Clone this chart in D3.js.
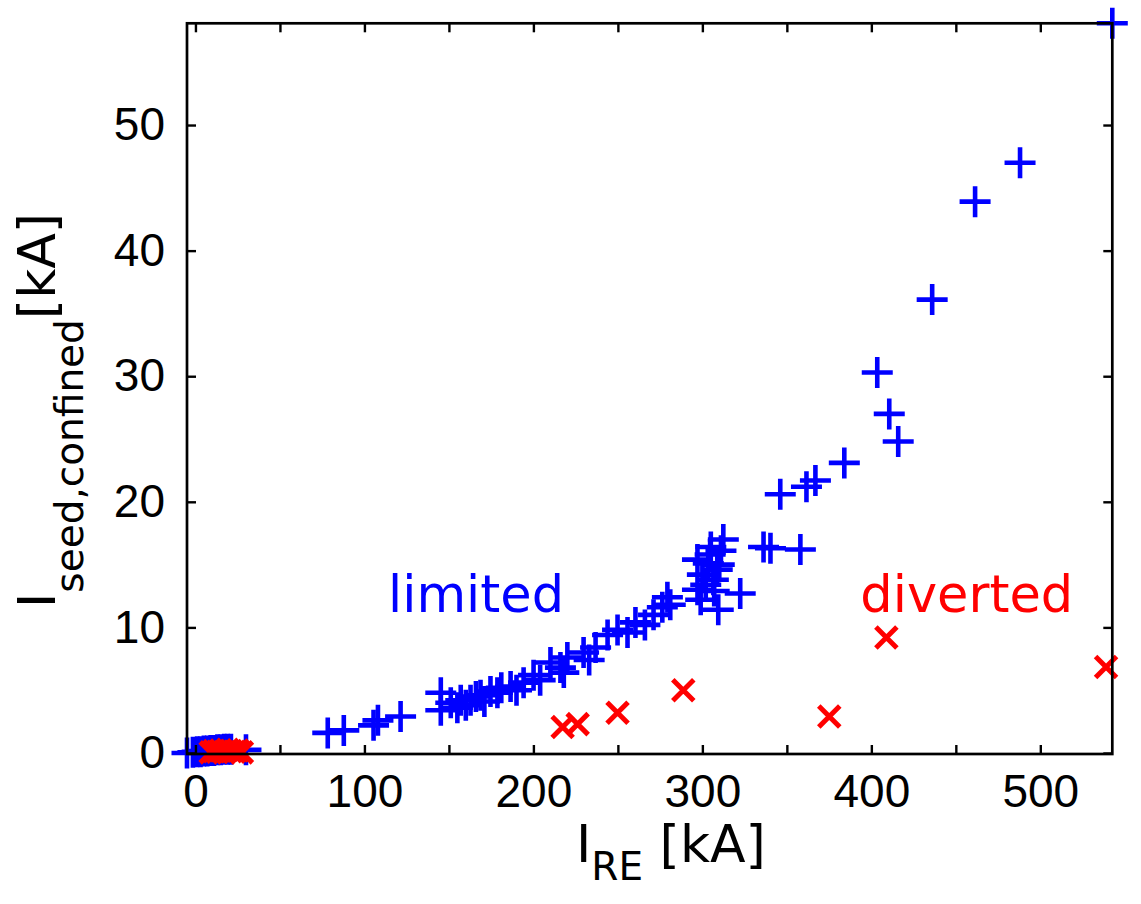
<!DOCTYPE html>
<html>
<head>
<meta charset="utf-8">
<script src="https://cdn.jsdelivr.net/npm/d3@7"></script>
<style>
  html, body { margin: 0; padding: 0; background: #fff; }
  svg { display: block; }
</style>
</head>
<body>
<svg id="chart" width="1141" height="904"></svg>
<script>
// Runaway electron seed current vs. runaway current, kA
const limitedX = [
  -5.0, -1.5, 1.0, 3.0, 5.0, 7.0, 9.0, 11.0, 13.0, 15.0, 17.0, 19.0, 21.0, 29.9,
  78.3, 87.8, 105.4, 108.0, 121.4,
  145.2, 145.2, 151.1, 155.0, 157.0, 160.0, 162.8, 166.0, 168.7, 171.0, 174.6, 178.7, 181.0,
  186.5, 190.0, 194.2, 200.1, 204.0, 210.1, 216.0, 218.0, 220.1, 229.7, 233.0, 236.8,
  243.9, 249.8, 255.7, 260.4, 266.0, 271.1, 276.3, 279.3, 281.0,
  297.1, 297.1, 300.0, 302.0, 304.6, 305.0, 306.5, 308.8, 309.4, 310.0, 312.4, 322.4,
  299.0, 303.5, 307.0, 311.0,
  336.2, 340.3, 346.1, 358.0, 361.6, 366.9, 384.0,
  403.5, 410.6, 415.9, 436.0, 461.4, 488.0, 542.6
];
const limitedY = [
  0.0, 0.05, 0.1, 0.1, 0.15, 0.15, 0.2, 0.2, 0.25, 0.25, 0.3, 0.3, 0.3, 0.25,
  1.6, 1.8, 2.2, 2.6, 2.9,
  4.8, 3.4, 4.0, 3.6, 4.2, 3.8, 4.2, 4.5, 4.6, 4.1, 4.9, 4.8, 5.2,
  5.3, 5.0, 5.6, 6.2, 5.8, 7.2, 6.8, 6.4, 7.6, 8.0, 7.4, 8.4,
  9.4, 9.8, 9.6, 10.4, 10.2, 11.0, 11.6, 12.4, 11.8,
  13.0, 15.4, 14.2, 13.4, 15.8, 16.4, 13.8, 14.6, 11.4, 15.0, 17.0, 12.7,
  12.2, 15.1, 12.9, 16.1,
  16.4, 16.3, 20.6, 16.2, 21.2, 21.7, 23.1,
  30.3, 27.0, 24.8, 36.1, 43.9, 47.0, 58.1
];

const divertedX = [9.0, 11.0, 13.0, 15.0, 17.0, 19.0, 21.0, 23.0, 25.0, 27.5,
  217.3, 226.2, 249.8, 288.7, 375.1, 408.9, 538.9];
const divertedY = [0.05, 0.15, 0.1, 0.2, 0.05, 0.25, 0.15, 0.1, 0.2, 0.05,
  2.07, 2.3, 3.2, 5.0, 2.9, 9.2, 6.85];

const xTickValues = [0, 50, 100, 150, 200, 250, 300, 350, 400, 450, 500];
const xTickLabels = ["0", "", "100", "", "200", "", "300", "", "400", "", "500"];
const yTickValues = [0, 10, 20, 30, 40, 50];
const yTickLabels = ["0", "10", "20", "30", "40", "50"];

const annotations = [
  { text: "limited", x: 114, y: 11.2, color: "#0000ff" },
  { text: "diverted", x: 393.5, y: 11.2, color: "#ff0000" }
];

// plot box
const boxLeft = 187, boxRight = 1112.3, boxTop = 23.3, boxBottom = 754;

const allX = limitedX.concat(divertedX);
const allY = limitedY.concat(divertedY);

// tight limits, as in the source figure
const x = d3.scaleLinear().domain(d3.extent(allX)).range([boxLeft, boxRight]);
const y = d3.scaleLinear().domain([d3.min(allY) - 0.08, d3.max(allY)]).range([boxBottom, boxTop]);

const svg = d3.select("#chart");

const tickFont = "'Liberation Sans', Arial, Helvetica, sans-serif";
const labelFont = "'DejaVu Sans', sans-serif";

// markers
const plusPath = "M-15.5,0H15.5M0,-15.5V15.5";
const crossPath = "M-10.5,-10.5L10.5,10.5M-10.5,10.5L10.5,-10.5";

svg.append("g")
  .selectAll("path")
  .data(d3.zip(limitedX, limitedY))
  .join("path")
  .attr("transform", d => `translate(${x(d[0])},${y(d[1])})`)
  .attr("d", plusPath)
  .attr("fill", "none")
  .attr("stroke", "#0000ff")
  .attr("stroke-width", 4.6);

svg.append("g")
  .selectAll("path")
  .data(d3.zip(divertedX, divertedY))
  .join("path")
  .attr("transform", d => `translate(${x(d[0])},${y(d[1])})`)
  .attr("d", crossPath)
  .attr("fill", "none")
  .attr("stroke", "#ff0000")
  .attr("stroke-width", 5);

// axes: ticks pointing inward on all four sides
function styleAxis(g) {
  g.select(".domain").remove();
  g.selectAll(".tick line").attr("stroke", "#000").attr("stroke-width", 2.4);
  g.selectAll(".tick text")
    .attr("fill", "#000")
    .style("font-family", tickFont)
    .style("font-size", "46px");
}

svg.append("g")
  .attr("transform", `translate(0,${boxBottom})`)
  .call(d3.axisBottom(x).tickValues(xTickValues).tickSizeInner(-9).tickSizeOuter(0)
    .tickPadding(20).tickFormat((d, i) => xTickLabels[i]))
  .call(styleAxis);

svg.append("g")
  .attr("transform", `translate(0,${boxTop})`)
  .call(d3.axisTop(x).tickValues(xTickValues).tickSizeInner(-9).tickSizeOuter(0).tickFormat(""))
  .call(styleAxis);

svg.append("g")
  .attr("transform", `translate(${boxLeft},0)`)
  .call(d3.axisLeft(y).tickValues(yTickValues).tickSizeInner(-9).tickSizeOuter(0)
    .tickPadding(22).tickFormat((d, i) => yTickLabels[i]))
  .call(styleAxis);

svg.append("g")
  .attr("transform", `translate(${boxRight},0)`)
  .call(d3.axisRight(y).tickValues(yTickValues).tickSizeInner(-9).tickSizeOuter(0).tickFormat(""))
  .call(styleAxis);

// frame
svg.append("rect")
  .attr("x", boxLeft).attr("y", boxTop)
  .attr("width", boxRight - boxLeft).attr("height", boxBottom - boxTop)
  .attr("fill", "none")
  .attr("stroke", "#000")
  .attr("stroke-width", 2.7);

// in-plot annotations
svg.append("g")
  .selectAll("text")
  .data(annotations)
  .join("text")
  .attr("x", d => x(d.x))
  .attr("y", d => y(d.y))
  .attr("fill", d => d.color)
  .style("font-family", labelFont)
  .style("font-size", "51px")
  .text(d => d.text);

// x label: I_RE [kA]
const xl = svg.append("text")
  .attr("x", 576).attr("y", 862)
  .style("font-family", labelFont)
  .style("font-size", "52px")
  .attr("fill", "#000");
xl.append("tspan").text("I");
xl.append("tspan").attr("dy", 18).style("font-size", "39px").text("RE");
xl.append("tspan").attr("dy", -18).text(" [kA]");

// y label: I_seed,confined [kA]
const yl = svg.append("text")
  .attr("transform", "translate(55,608) rotate(-90)")
  .style("font-family", labelFont)
  .style("font-size", "52px")
  .attr("fill", "#000");
yl.append("tspan").text("I");
yl.append("tspan").attr("dy", 28).style("font-size", "39px").text("seed,confined");
yl.append("tspan").attr("dy", -28).text("[kA]");
</script>
</body>
</html>
